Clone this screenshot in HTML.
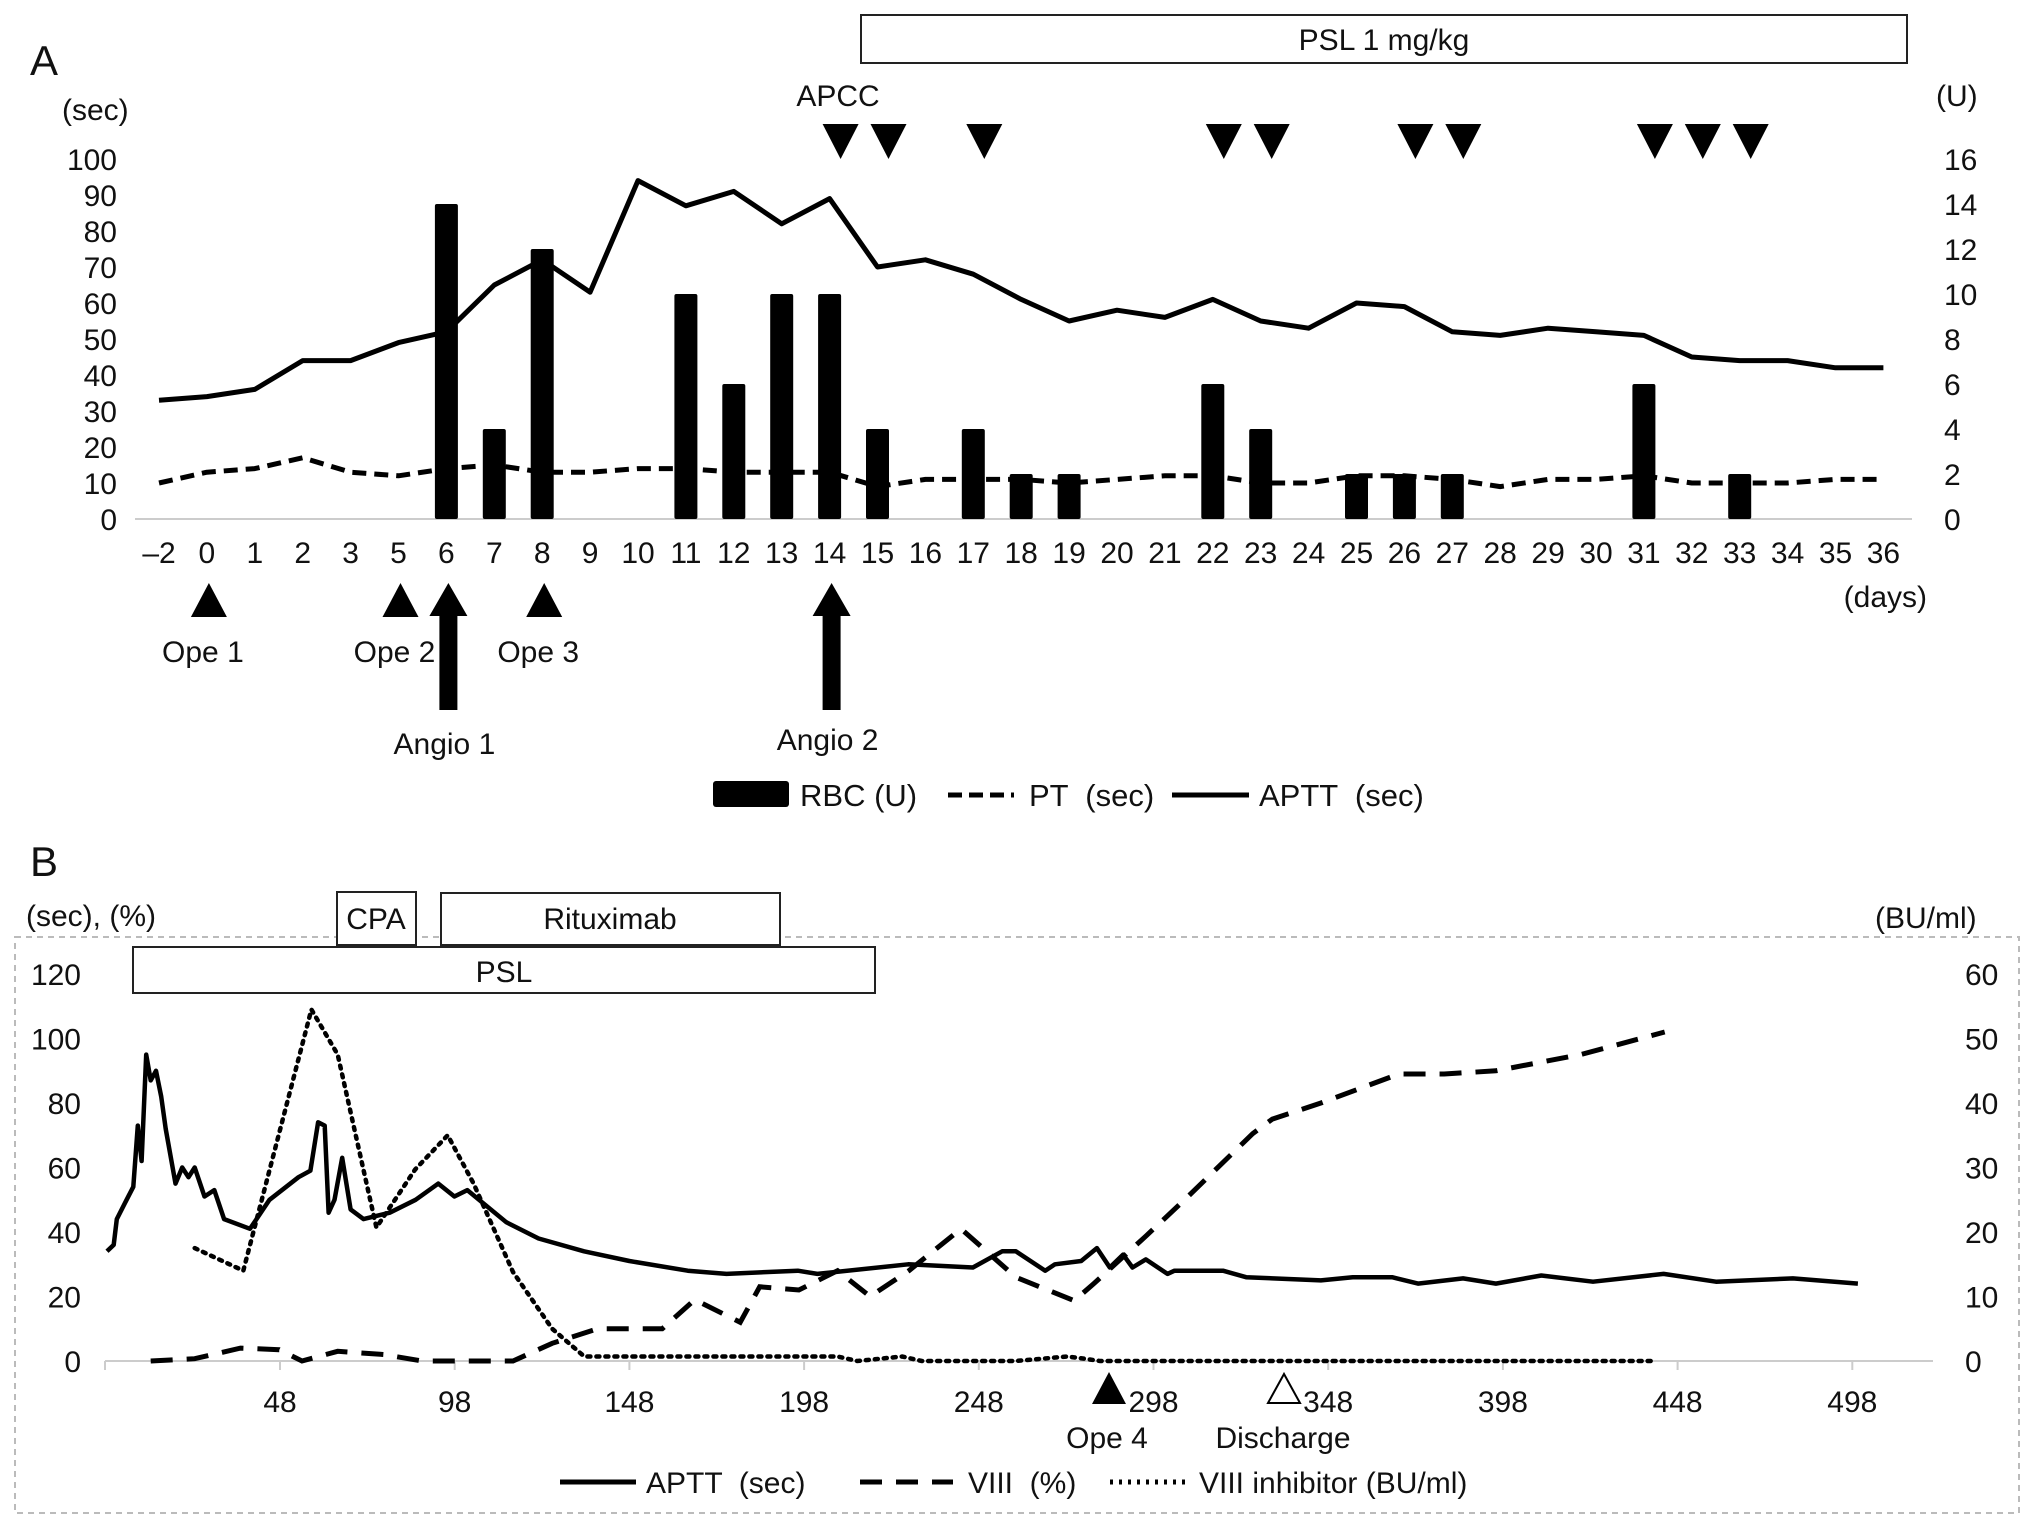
<!DOCTYPE html>
<html><head><meta charset="utf-8"><style>
html,body{margin:0;padding:0;background:#fff}
svg{display:block}
text{font-family:"Liberation Sans",Arial,sans-serif;fill:#111}
</style></head><body>
<svg id="fig" width="2032" height="1530" viewBox="0 0 2032 1530" xmlns="http://www.w3.org/2000/svg">
<!-- Panel A static -->
<text x="30" y="75" font-size="42">A</text>
<rect x="861" y="15" width="1046" height="48" fill="#fff" stroke="#222" stroke-width="2"/>
<text x="1384" y="50" font-size="30" text-anchor="middle">PSL 1 mg/kg</text>
<text x="62" y="120" font-size="30">(sec)</text>
<text x="1936" y="106" font-size="30">(U)</text>
<text x="838" y="106" font-size="30" text-anchor="middle">APCC</text>
<text x="1927" y="607" font-size="30" text-anchor="end">(days)</text>
<g id="gA"></g>
<!-- Legend A -->
<g>
<rect x="713" y="781" width="76" height="26" rx="3" fill="#000"/>
<text x="800" y="806" font-size="31">RBC  (U)</text>
<line x1="948" y1="795" x2="1014" y2="795" stroke="#000" stroke-width="5" stroke-dasharray="14 7"/>
<text x="1029" y="806" font-size="31" xml:space="preserve">PT  (sec)</text>
<line x1="1172" y1="795" x2="1249" y2="795" stroke="#000" stroke-width="5"/>
<text x="1259" y="806" font-size="31" xml:space="preserve">APTT  (sec)</text>
</g>
<!-- Panel B static -->
<text x="30" y="876" font-size="42">B</text>
<rect x="15" y="937" width="2004" height="576" fill="none" stroke="#bbb" stroke-width="2" stroke-dasharray="6 5"/>
<text x="26" y="926" font-size="30">(sec), (%)</text>
<text x="1875" y="928" font-size="30">(BU/ml)</text>
<rect x="337" y="892" width="79" height="53" fill="#fff" stroke="#222" stroke-width="2"/>
<text x="376" y="929" font-size="30" text-anchor="middle">CPA</text>
<rect x="441" y="893" width="339" height="52" fill="#fff" stroke="#222" stroke-width="2"/>
<text x="610" y="929" font-size="30" text-anchor="middle">Rituximab</text>
<rect x="133" y="947" width="742" height="46" fill="#fff" stroke="#222" stroke-width="2"/>
<text x="504" y="982" font-size="30" text-anchor="middle">PSL</text>
<polygon points="1109,1372 1092,1404 1126,1404" fill="#000"/>
<text x="1107" y="1448" font-size="30" text-anchor="middle">Ope 4</text>
<polygon points="1284,1374 1268,1403 1300,1403" fill="#fff" stroke="#000" stroke-width="2"/>
<text x="1283" y="1448" font-size="30" text-anchor="middle">Discharge</text>
<g id="gB"></g>
<g>
<line x1="560" y1="1482" x2="636" y2="1482" stroke="#000" stroke-width="5"/>
<text x="646" y="1493" font-size="30" xml:space="preserve">APTT  (sec)</text>
<line x1="860" y1="1482" x2="953" y2="1482" stroke="#000" stroke-width="5" stroke-dasharray="22 14"/>
<text x="968" y="1493" font-size="30" xml:space="preserve">VIII  (%)</text>
<line x1="1110" y1="1482" x2="1186" y2="1482" stroke="#000" stroke-width="5" stroke-dasharray="3 6"/>
<text x="1199" y="1493" font-size="30">VIII inhibitor (BU/ml)</text>
</g>
</svg>
<script>
// ---------- Panel A data ----------
const daysA = ["-2","0","1","2","3","5","6","7","8","9","10","11","12","13","14","15","16","17","18","19","20","21","22","23","24","25","26","27","28","29","30","31","32","33","34","35","36"];
const apttA = [33,34,36,44,44,49,52,65,72,63,94,87,91,82,89,70,72,68,61,55,58,56,61,55,53,60,59,52,51,53,52,51,45,44,44,42,42];
const ptA = [10,13,14,17,13,12,14,15,13,13,14,14,13,13,13,9,11,11,11,10,11,12,12,10,10,12,12,11,9,11,11,12,10,10,10,11,11];
const rbcDays = ["6","7","8","11","12","13","14","15","17","18","19","22","23","25","26","27","31","33"];
const rbcUnits = [14,4,12,10,6,10,10,4,4,2,2,6,4,2,2,2,6,2];
const apccDays = ["14","15","17","22","23","26","27","31","32","33"];
const leftTicksA = [0,10,20,30,40,50,60,70,80,90,100];
const rightTicksA = [0,2,4,6,8,10,12,14,16];
const opeDays = ["0","5","8"];
const opeLabels = ["Ope 1","Ope 2","Ope 3"];
const angioDays = ["6","14"];
const angioLabels = ["Angio 1","Angio 2"];

// ---------- Panel B data ----------
const apttBDay = [-1.5,0.4,1.3,4.1,6,7.3,8.4,9.7,11,12.5,14,15.3,18.1,20,21.8,23.6,26.4,29.2,32,39.4,45,53.3,56.7,58.9,60.8,61.9,63.6,65.8,68.2,71.9,79.4,86.8,93.3,97.9,101.6,112.8,122,135,148,164.7,175.8,196.2,201.8,227.8,246.3,254.7,258.6,267,269.8,277.3,281.8,285.5,289.3,292,295.8,302,304,317.9,324.5,345.9,355,366.3,373.7,386.6,396,409,423.8,444,459,481,499.6];
const apttBVal = [34,36,44,50,54,73,62,95,87,90,82,72,55,60,57,60,51,53,44,41,50,57,59,74,73,46,50,63,47,44,46,50,55,51,53,43,38,34,31,28,27,28,27,30,29,34,34,28,30,31,35,29,33,29,31.5,27,28,28,26,25,26,26,24,25.6,24,26.5,24.6,27,24.6,25.6,24];
const viiiDay = [11,23.6,36.7,47.8,54.3,64.5,77.6,88.7,114.7,125.9,138.9,157.4,166.7,179.7,185.3,196.5,207.6,216.9,228,242.9,258.6,275.3,280.9,295.8,306.9,326.4,332,345.9,368.2,381.2,396,420.2,444.3];
const viiiVal = [0,0.7,4,3.5,0,3,2,0,0,5.5,10,10,19,12,23,22,28,20,28,41,26,18.7,24,38.7,50,70.5,75,80,89,89,90,95,102];
const inhDay = [23.6,37.5,57,64.5,75.6,86.7,96,103.4,114.7,125.9,135.1,207.6,213.2,226.1,231.7,258.6,273.4,279,282.7,442];
const inhVal = [17.5,14,54.5,47.5,20.7,29.7,35,27.5,13.8,5,0.7,0.7,0,0.7,0,0,0.7,0.3,0,0];
const xTicksB = [48,98,148,198,248,298,348,398,448,498];
const leftTicksB = [0,20,40,60,80,100,120];
const rightTicksB = [0,10,20,30,40,50,60];

const NS = "http://www.w3.org/2000/svg";
function mk(parent, tag, attrs, txt){
  const e = document.createElementNS(NS, tag);
  for (const k in attrs) e.setAttribute(k, attrs[k]);
  if (txt !== undefined) e.textContent = txt;
  parent.appendChild(e);
  return e;
}
// Panel A scales
const xA = i => 159 + i * 47.9;
const xAd = d => xA(daysA.indexOf(d));
const yA = v => 519 - v * 3.6;
const yU = u => 519 - u * 22.5;
const gA = document.getElementById("gA");

leftTicksA.forEach(v => {
  const t = mk(gA, "text", {x:117, y:yA(v)+11, "font-size":30, "text-anchor":"end"}, String(v));
  
  
});
rightTicksA.forEach(v => {
  const t = mk(gA, "text", {x:1944, y:yU(v)+11, "font-size":30}, String(v));
  
  
});
daysA.forEach((d, i) => {
  const t = mk(gA, "text", {x:xA(i), y:563, "font-size":30, "text-anchor":"middle"}, d === "-2" ? "\u20132" : d);
  
  
});
const axA = mk(gA, "line", {x1:135, y1:519, x2:1912, y2:519, stroke:"#ccc", "stroke-width":2});



rbcDays.forEach((d, k) => {
  const x = xAd(d);
  const b = mk(gA, "rect", {x:x-11.5, y:yU(rbcUnits[k]), width:23, height:519-yU(rbcUnits[k]), fill:"#000", rx:2});
  
  
});
const ptPts = ptA.map((v,i) => xA(i).toFixed(1)+","+yA(v).toFixed(1)).join(" ");
const ptL = mk(gA, "polyline", {points:ptPts, fill:"none", stroke:"#000", "stroke-width":5, "stroke-dasharray":"14 8", "stroke-linejoin":"round"});


const apPts = apttA.map((v,i) => xA(i).toFixed(1)+","+yA(v).toFixed(1)).join(" ");
const apL = mk(gA, "polyline", {points:apPts, fill:"none", stroke:"#000", "stroke-width":5, "stroke-linejoin":"round"});



apccDays.forEach(d => {
  const c = xAd(d) + 11;
  const p = mk(gA, "polygon", {points:`${c-18},124 ${c+18},124 ${c},159`, fill:"#000"});
  
  
});
opeDays.forEach((d, k) => {
  const c = xAd(d) + 2;
  const p = mk(gA, "polygon", {points:`${c},583 ${c-18},617 ${c+18},617`, fill:"#000"});
  
  
  const t = mk(gA, "text", {x:c-6, y:662, "font-size":30, "text-anchor":"middle"}, opeLabels[k]);
  
  
});
angioDays.forEach((d, k) => {
  const c = xAd(d) + 2;
  const p = mk(gA, "polygon", {points:`${c},583 ${c-19},616 ${c-9},616 ${c-9},710 ${c+9},710 ${c+9},616 ${c+19},616`, fill:"#000"});
  
  
  const t = mk(gA, "text", {x:c-4, y:754 - k*4, "font-size":30, "text-anchor":"middle"}, angioLabels[k]);
  
  
});

// Panel B scales
const xB = d => 280 + (d - 48) * 3.494;
const yB = v => 1361 - v * 3.225;
const yBR = v => 1361 - v * 6.45;
const gB = document.getElementById("gB");
const axB = mk(gB, "line", {x1:105, y1:1361, x2:1933, y2:1361, stroke:"#ccc", "stroke-width":2});


[105].concat(xTicksB.map(xB)).forEach(x => {
  const l = mk(gB, "line", {x1:x, y1:1361, x2:x, y2:1370, stroke:"#ccc", "stroke-width":2});
  
  
});
xTicksB.forEach(v => {
  const t = mk(gB, "text", {x:xB(v), y:1412, "font-size":30, "text-anchor":"middle"}, String(v));
  
  
});
leftTicksB.forEach(v => {
  const t = mk(gB, "text", {x:81, y:yB(v)+11, "font-size":30, "text-anchor":"end"}, String(v));
  
  
});
rightTicksB.forEach(v => {
  const t = mk(gB, "text", {x:1965, y:yBR(v)+11, "font-size":30}, String(v));
  
  
});
const inhPts = inhDay.map((d,i) => xB(d).toFixed(1)+","+yBR(inhVal[i]).toFixed(1)).join(" ");
const inhL = mk(gB, "polyline", {points:inhPts, fill:"none", stroke:"#000", "stroke-width":4.5, "stroke-dasharray":"3 6", "stroke-linecap":"round"});


const vPts = viiiDay.map((d,i) => xB(d).toFixed(1)+","+yB(viiiVal[i]).toFixed(1)).join(" ");
const vL = mk(gB, "polyline", {points:vPts, fill:"none", stroke:"#000", "stroke-width":5, "stroke-dasharray":"22 14"});


const aPts = apttBDay.map((d,i) => xB(d).toFixed(1)+","+yB(apttBVal[i]).toFixed(1)).join(" ");
const aL = mk(gB, "polyline", {points:aPts, fill:"none", stroke:"#000", "stroke-width":4.5, "stroke-linejoin":"round"});


</script>
</body></html>
